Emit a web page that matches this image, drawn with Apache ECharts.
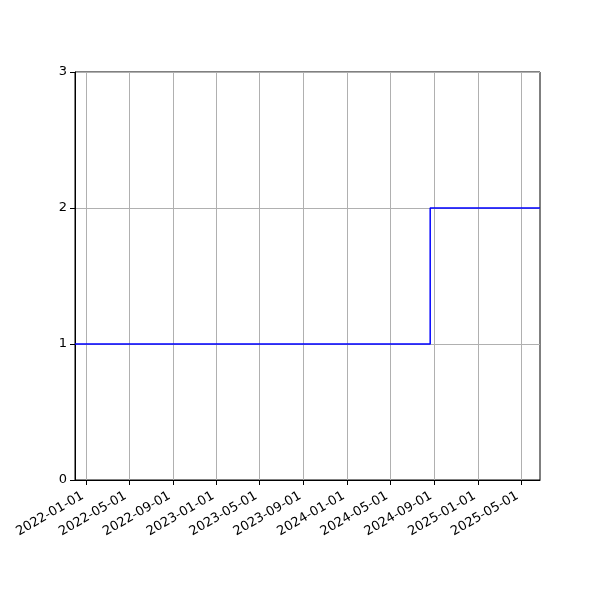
<!DOCTYPE html>
<html>
<head>
<meta charset="utf-8">
<script src="https://cdn.jsdelivr.net/npm/echarts@6/dist/echarts.min.js"></script>
<style>html,body{margin:0;padding:0;background:#fff}#c{width:600px;height:600px}</style>
</head>
<body>
<div id="c"></div>
<script>
const dates = ['2021-12-01', '2024-08-20', '2025-06-23'];
const values = [1, 2, 2];
const xTickLabels = ['2022-01-01', '2022-05-01', '2022-09-01', '2023-01-01', '2023-05-01', '2023-09-01',
  '2024-01-01', '2024-05-01', '2024-09-01', '2025-01-01', '2025-05-01'];
const yTicks = [0, 1, 2, 3];

const toMs = d => Date.parse(d + 'T00:00:00Z');
const pad = n => (n < 10 ? '0' : '') + n;
const fmt = v => { const d = new Date(v); return d.getUTCFullYear() + '-' + pad(d.getUTCMonth() + 1) + '-' + pad(d.getUTCDate()); };
const ts = dates.map(toMs);
const xTickMs = xTickLabels.map(toMs);

const chart = echarts.init(document.getElementById('c'), null, {renderer: 'canvas'});
chart.setOption({
  animation: false,
  backgroundColor: '#fff',
  textStyle: {fontFamily: 'DejaVu Sans'},
  grid: {left: 75, right: 60, top: 72, bottom: 120, show: true, borderColor: '#000', borderWidth: 1, containLabel: false},
  xAxis: {
    type: 'value',
    min: ts[0], max: ts[ts.length - 1],
    axisLine: {show: true, lineStyle: {color: '#000', width: 1}},
    axisTick: {show: true, length: 5, customValues: xTickMs, lineStyle: {color: '#000', width: 1}},
    splitLine: {show: true, customValues: xTickMs, lineStyle: {color: '#b0b0b0', width: 1}},
    minorTick: {show: false},
    axisLabel: {
      rotate: 30, color: '#000', fontSize: 13, fontFamily: 'DejaVu Sans', margin: 13,
      padding: [0, 4, 0, 0],
      customValues: xTickMs,
      showMinLabel: true, showMaxLabel: true, hideOverlap: false,
      formatter: v => fmt(v)
    }
  },
  yAxis: {
    type: 'value', min: yTicks[0], max: yTicks[yTicks.length - 1], interval: 1,
    axisLine: {show: true, lineStyle: {color: '#000', width: 1}},
    axisTick: {show: true, length: 5, lineStyle: {color: '#000', width: 1}},
    splitLine: {show: true, lineStyle: {color: '#b0b0b0', width: 1}},
    axisLabel: {color: '#000', fontSize: 13, fontFamily: 'DejaVu Sans', margin: 8}
  },
  series: [{
    type: 'line',
    step: 'end',
    data: ts.map((t, i) => [t, values[i]]),
    showSymbol: false,
    lineStyle: {color: '#0000ff', width: 1.5},
    itemStyle: {color: '#0000ff'}
  }]
});
</script>
</body>
</html>
